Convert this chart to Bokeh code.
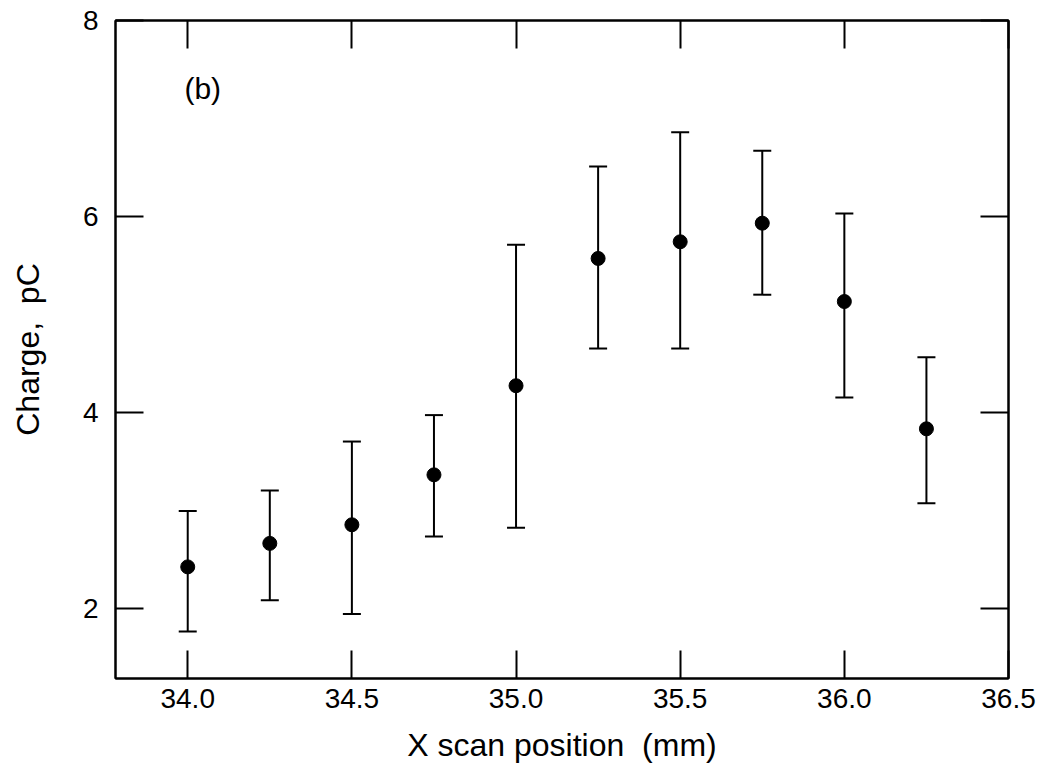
from bokeh.plotting import figure
from bokeh.models import (ColumnDataSource, Whisker, TeeHead, FixedTicker,
                          PrintfTickFormatter, LinearAxis, Range1d, Label)
from bokeh.embed import file_html
from bokeh.resources import INLINE

# ---- data ----
x_pos = [34.0, 34.25, 34.5, 34.75, 35.0, 35.25, 35.5, 35.75, 36.0, 36.25]
charge = [2.42, 2.66, 2.85, 3.36, 4.27, 5.57, 5.74, 5.93, 5.13, 3.83]
err_upper = [2.99, 3.20, 3.70, 3.97, 5.71, 6.51, 6.86, 6.67, 6.03, 4.56]
err_lower = [1.76, 2.08, 1.94, 2.73, 2.82, 4.65, 4.65, 5.20, 4.15, 3.07]
x_ticks = [34.0, 34.5, 35.0, 35.5, 36.0, 36.5]
y_ticks = [2, 4, 6, 8]
x_label = "X scan position\u00a0 (mm)"
y_label = "Charge,\u00a0 pC"
panel_label = "(b)"
panel_label_x = 33.99
panel_label_y = 7.31

FONT = "Liberation Sans"

src = ColumnDataSource(dict(x=x_pos, y=charge, upper=err_upper, lower=err_lower))

p = figure(width=1047, height=776, output_backend="svg", toolbar_location=None,
           x_range=Range1d(33.78, 36.5), y_range=Range1d(1.28, 8.0),
           min_border_left=115, min_border_right=39, min_border_top=20,
           min_border_bottom=98)
p.background_fill_color = "white"
p.border_fill_color = "white"
p.grid.visible = False
p.outline_line_color = "black"
p.outline_line_width = 2

# error bars
wh = Whisker(base="x", upper="upper", lower="lower", source=src,
             line_color="black", line_width=2,
             upper_head=TeeHead(size=18, line_color="black", line_width=2),
             lower_head=TeeHead(size=18, line_color="black", line_width=2))
p.add_layout(wh)

p.scatter("x", "y", source=src, size=14, color="black")

# main axes
xa = p.xaxis[0]
xa.ticker = FixedTicker(ticks=x_ticks)
xa.formatter = PrintfTickFormatter(format="%.1f")
xa.axis_label = x_label
ya = p.yaxis[0]
ya.ticker = FixedTicker(ticks=y_ticks)
ya.axis_label = y_label

for ax in (xa, ya):
    ax.axis_line_width = 2
    ax.axis_line_color = "black"
    ax.major_tick_in = 28
    ax.major_tick_out = 0
    ax.major_tick_line_width = 2
    ax.major_tick_line_color = "black"
    ax.minor_tick_line_color = None
    ax.major_label_text_font = FONT
    ax.major_label_text_font_size = "28px"
    ax.major_label_text_color = "black"
    ax.axis_label_text_font = FONT
    ax.axis_label_text_font_size = "32px"
    ax.axis_label_text_font_style = "normal"
    ax.axis_label_text_color = "black"

xa.major_label_standoff = 10
xa.axis_label_standoff = 16
ya.major_label_standoff = 17
ya.axis_label_standoff = 34

# mirrored ticks on top and right (no labels)
top = LinearAxis(ticker=FixedTicker(ticks=x_ticks), major_label_text_color=None,
                 major_label_text_font_size="1px", major_label_standoff=0)
right = LinearAxis(ticker=FixedTicker(ticks=y_ticks), major_label_text_color=None,
                   major_label_text_font_size="1px", major_label_standoff=0)
for ax in (top, right):
    ax.axis_line_width = 2
    ax.major_tick_in = 28
    ax.major_tick_out = 0
    ax.major_tick_line_width = 2
    ax.minor_tick_line_color = None
p.add_layout(top, "above")
p.add_layout(right, "right")

p.add_layout(Label(x=panel_label_x, y=panel_label_y, text=panel_label,
                   text_font=FONT, text_font_size="30px", text_baseline="middle",
                   text_align="left", text_color="black"))

open("out.html", "w").write(file_html(p, INLINE))
